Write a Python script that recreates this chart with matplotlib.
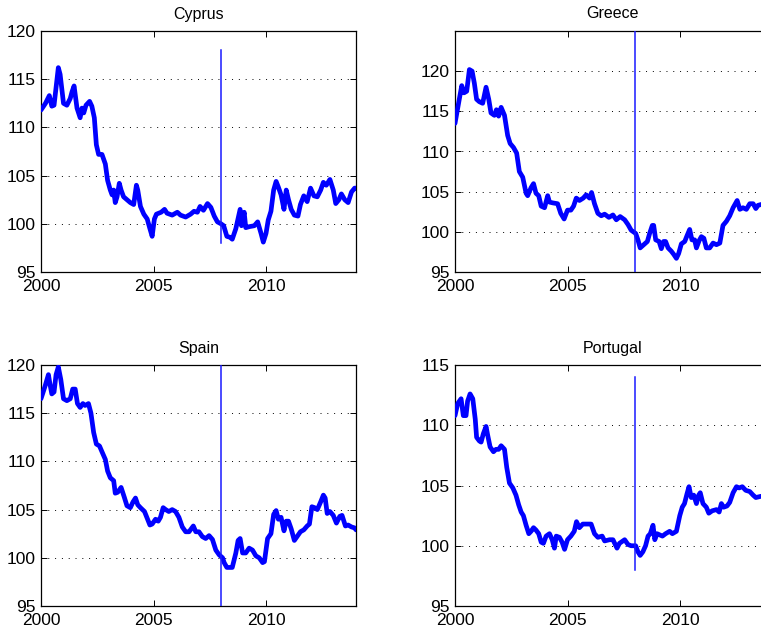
import matplotlib
matplotlib.use("Agg")
import matplotlib.pyplot as plt

plt.rcParams['font.family'] = ['Liberation Sans', 'DejaVu Sans']

# Real effective exchange rate indices (2008 = 100), sampled at irregular dates
cyprus_t = [2000.0, 2000.2, 2000.37, 2000.48, 2000.58, 2000.77, 2000.85, 2001.0, 2001.15, 2001.3, 2001.38,
            2001.47, 2001.6, 2001.74, 2001.82, 2001.9, 2002.0, 2002.16, 2002.26, 2002.37, 2002.46, 2002.56,
            2002.71, 2002.86, 2002.96, 2003.08, 2003.16, 2003.23, 2003.3, 2003.38, 2003.48, 2003.56, 2003.67,
            2003.82, 2003.97, 2004.12, 2004.24, 2004.3, 2004.42, 2004.57, 2004.72, 2004.84, 2004.94, 2005.04,
            2005.13, 2005.34, 2005.49, 2005.6, 2005.83, 2006.06, 2006.2, 2006.43, 2006.65, 2006.8, 2006.95,
            2007.07, 2007.22, 2007.4, 2007.55, 2007.7, 2007.84, 2008.0, 2008.12, 2008.26, 2008.4, 2008.5,
            2008.66, 2008.85, 2008.91, 2009.03, 2009.1, 2009.25, 2009.48, 2009.63, 2009.78, 2009.88, 2010.0,
            2010.1, 2010.22, 2010.34, 2010.45, 2010.55, 2010.67, 2010.8, 2010.9, 2011.0, 2011.12, 2011.26,
            2011.42, 2011.53, 2011.68, 2011.83, 2011.98, 2012.13, 2012.28, 2012.43, 2012.55, 2012.68, 2012.84,
            2012.99, 2013.1, 2013.24, 2013.35, 2013.5, 2013.65, 2013.8, 2013.94, 2014.0]
cyprus_v = [111.8, 112.5, 113.3, 112.2, 112.3, 116.2, 115.5, 112.5, 112.3, 113.0, 113.7,
            114.3, 112.0, 111.0, 112.0, 111.5, 112.3, 112.7, 112.2, 111.0, 108.2, 107.2,
            107.2, 106.2, 104.5, 103.5, 103.0, 103.5, 102.2, 102.8, 104.2, 103.5, 102.8,
            102.5, 102.2, 102.0, 104.0, 103.5, 101.8, 101.0, 100.5, 99.5, 98.7, 100.5,
            101.0, 101.2, 101.5, 101.1, 100.9, 101.2, 100.9, 100.7, 101.0, 101.3, 101.2,
            101.8, 101.4, 102.1, 101.7, 100.8, 100.2, 100.0, 99.8, 98.7, 98.6, 98.4,
            99.5, 101.5, 99.8, 101.2, 99.6, 99.7, 99.8, 100.2, 99.0, 98.1, 99.0,
            100.4, 101.3, 103.5, 104.4, 103.8, 103.0, 101.5, 103.5, 102.5, 101.5, 100.9,
            100.8, 102.0, 102.9, 102.3, 103.7, 102.9, 102.8, 103.5, 104.3, 104.0, 104.6,
            103.5, 102.1, 102.5, 103.1, 102.5, 102.2, 103.3, 103.7, 103.7]

greece_t = [2000.0, 2000.19, 2000.3, 2000.4, 2000.52, 2000.64, 2000.76, 2000.86, 2000.96, 2001.08, 2001.23,
            2001.38, 2001.5, 2001.6, 2001.75, 2001.84, 2001.94, 2002.05, 2002.2, 2002.34, 2002.45, 2002.6,
            2002.74, 2002.86, 2003.01, 2003.16, 2003.23, 2003.38, 2003.49, 2003.6, 2003.72, 2003.83, 2003.98,
            2004.12, 2004.2, 2004.35, 2004.56, 2004.7, 2004.85, 2005.0, 2005.15, 2005.27, 2005.39, 2005.53,
            2005.7, 2005.83, 2005.98, 2006.07, 2006.2, 2006.35, 2006.5, 2006.65, 2006.84, 2007.02, 2007.17,
            2007.34, 2007.54, 2007.69, 2007.83, 2008.03, 2008.13, 2008.23, 2008.43, 2008.55, 2008.65, 2008.77,
            2008.83, 2008.92, 2009.07, 2009.17, 2009.27, 2009.36, 2009.47, 2009.61, 2009.72, 2009.84, 2009.94,
            2010.06, 2010.21, 2010.31, 2010.43, 2010.53, 2010.65, 2010.73, 2010.85, 2010.95, 2011.06, 2011.17,
            2011.32, 2011.47, 2011.62, 2011.77, 2011.91, 2012.06, 2012.21, 2012.36, 2012.54, 2012.66, 2012.8,
            2012.95, 2013.1, 2013.25, 2013.37, 2013.47, 2013.6, 2013.8, 2014.0]
greece_v = [113.5, 116.5, 118.2, 117.3, 117.5, 120.2, 120.0, 118.5, 116.5, 116.2, 116.0,
            118.0, 116.5, 114.8, 114.5, 115.2, 114.4, 115.5, 114.5, 112.0, 111.0, 110.5,
            109.8, 107.5, 106.8, 104.8, 104.5, 105.5, 106.0, 104.8, 104.5, 103.2, 103.0,
            104.5, 103.7, 103.6, 103.5, 102.3, 101.6, 102.7, 102.7, 103.2, 104.2, 103.9,
            104.2, 104.6, 104.2, 104.9, 103.5, 102.3, 102.0, 102.2, 101.8, 102.1, 101.5,
            101.9, 101.5, 100.9, 100.2, 99.8, 99.0, 98.0, 98.5, 98.8, 99.8, 100.8,
            100.8, 99.0, 98.8, 97.9, 98.8, 98.8, 98.0, 97.6, 97.2, 96.7, 97.3,
            98.5, 98.8, 99.5, 100.3, 99.0, 99.0, 98.0, 98.9, 99.4, 99.2, 98.0,
            98.0, 98.6, 98.4, 98.6, 100.8, 101.3, 102.0, 103.0, 103.9, 102.8, 103.0,
            102.8, 103.5, 103.5, 102.9, 103.3, 103.4, 103.5, 103.4]

spain_t = [2000.0, 2000.18, 2000.33, 2000.4, 2000.48, 2000.58, 2000.67, 2000.77, 2000.88, 2001.0, 2001.15,
           2001.3, 2001.41, 2001.52, 2001.62, 2001.74, 2001.86, 2001.96, 2002.11, 2002.22, 2002.34, 2002.46,
           2002.6, 2002.71, 2002.86, 2002.96, 2003.08, 2003.23, 2003.3, 2003.41, 2003.56, 2003.7, 2003.82,
           2003.97, 2004.09, 2004.2, 2004.3, 2004.42, 2004.6, 2004.72, 2004.84, 2004.94, 2005.09, 2005.21,
           2005.31, 2005.43, 2005.54, 2005.68, 2005.83, 2005.98, 2006.13, 2006.28, 2006.43, 2006.58, 2006.77,
           2006.88, 2007.02, 2007.17, 2007.32, 2007.47, 2007.62, 2007.77, 2007.92, 2008.07, 2008.14, 2008.26,
           2008.4, 2008.5, 2008.66, 2008.76, 2008.85, 2008.96, 2009.1, 2009.25, 2009.4, 2009.55, 2009.7,
           2009.85, 2009.93, 2010.07, 2010.22, 2010.34, 2010.45, 2010.55, 2010.67, 2010.8, 2010.9, 2011.0,
           2011.12, 2011.26, 2011.38, 2011.53, 2011.68, 2011.83, 2011.93, 2012.04, 2012.16, 2012.28, 2012.43,
           2012.55, 2012.63, 2012.72, 2012.84, 2012.99, 2013.13, 2013.28, 2013.38, 2013.53, 2013.65, 2013.8,
           2013.94, 2014.0]
spain_v = [116.5, 117.8, 119.0, 118.0, 117.0, 117.2, 119.0, 119.8, 118.5, 116.5, 116.3,
           116.5, 117.5, 117.5, 116.0, 115.6, 116.0, 115.8, 116.0, 115.0, 113.0, 111.8,
           111.6, 111.0, 110.2, 109.0, 108.3, 108.0, 106.7, 106.8, 107.3, 106.3, 105.4,
           105.2, 105.8, 106.2, 105.5, 105.2, 104.8, 104.1, 103.4, 103.5, 104.0, 103.8,
           104.2, 105.2, 105.0, 104.8, 105.0, 104.8, 104.2, 103.2, 102.7, 102.7, 103.3,
           102.7, 102.7, 102.2, 102.0, 102.3, 101.9, 100.8, 100.3, 100.0, 99.5, 99.0,
           99.0, 99.0, 100.5, 101.8, 102.0, 100.5, 100.5, 101.0, 100.8, 100.2, 100.0,
           99.5, 99.6, 102.0, 102.5, 104.5, 104.9, 104.0, 104.2, 102.8, 103.8, 103.8,
           103.0, 101.8, 102.2, 102.7, 102.9, 103.3, 103.5, 105.3, 105.2, 105.0, 105.8,
           106.5, 106.2, 104.6, 104.8, 104.4, 103.6, 104.3, 104.4, 103.3, 103.4, 103.2,
           103.1, 102.9]

portugal_t = [2000.0, 2000.12, 2000.27, 2000.37, 2000.49, 2000.56, 2000.67, 2000.79, 2000.9, 2000.96, 2001.08,
              2001.16, 2001.26, 2001.38, 2001.45, 2001.56, 2001.71, 2001.82, 2001.94, 2002.05, 2002.2, 2002.3,
              2002.42, 2002.57, 2002.71, 2002.83, 2002.94, 2003.04, 2003.16, 2003.28, 2003.38, 2003.49, 2003.6,
              2003.72, 2003.83, 2003.93, 2004.05, 2004.2, 2004.32, 2004.42, 2004.5, 2004.64, 2004.76, 2004.87,
              2005.0, 2005.15, 2005.3, 2005.4, 2005.53, 2005.68, 2005.85, 2006.05, 2006.2, 2006.35, 2006.54,
              2006.65, 2006.87, 2007.02, 2007.2, 2007.31, 2007.54, 2007.69, 2007.83, 2008.03, 2008.13, 2008.23,
              2008.35, 2008.47, 2008.58, 2008.68, 2008.8, 2008.88, 2008.98, 2009.1, 2009.22, 2009.36, 2009.54,
              2009.66, 2009.84, 2009.99, 2010.1, 2010.2, 2010.31, 2010.4, 2010.5, 2010.61, 2010.73, 2010.83,
              2010.9, 2011.02, 2011.17, 2011.28, 2011.43, 2011.62, 2011.74, 2011.84, 2011.94, 2012.09, 2012.21,
              2012.36, 2012.51, 2012.63, 2012.77, 2012.92, 2013.1, 2013.25, 2013.37, 2013.59, 2013.8, 2014.0]
portugal_v = [110.8, 111.8, 112.2, 110.8, 110.8, 112.0, 112.6, 112.2, 110.5, 109.0, 108.7,
              108.6, 109.3, 109.9, 109.2, 108.2, 107.8, 108.0, 108.0, 108.3, 108.0, 106.5,
              105.2, 104.8, 104.2, 103.4, 102.8, 102.5, 101.7, 101.0, 101.2, 101.5, 101.3,
              101.0, 100.3, 100.2, 100.8, 101.0, 100.5, 99.8, 100.8, 100.7, 100.3, 99.7,
              100.5, 100.8, 101.2, 102.0, 101.5, 101.8, 101.8, 101.8, 101.0, 100.7, 100.8,
              100.4, 100.5, 100.5, 99.8, 100.2, 100.5, 100.1, 100.0, 100.0, 99.5, 99.2,
              99.5, 100.0, 100.8, 101.0, 101.7, 100.5, 101.0, 100.9, 100.8, 101.0, 101.2,
              101.0, 101.2, 102.5, 103.2, 103.5, 104.3, 104.9, 104.0, 104.2, 103.5, 104.2,
              104.4, 103.5, 103.2, 102.7, 102.9, 103.0, 102.8, 103.5, 103.2, 103.3, 103.6,
              104.4, 104.9, 104.8, 104.9, 104.6, 104.5, 104.2, 104.0, 104.1, 104.1, 104.1]

titles = ["Cyprus", "Greece", "Spain", "Portugal"]
series = [(cyprus_t, cyprus_v), (greece_t, greece_v), (spain_t, spain_v), (portugal_t, portugal_v)]
ylims = [(95, 120), (95, 125), (95, 120), (95, 115)]
yticks = [[95, 100, 105, 110, 115, 120], [95, 100, 105, 110, 115, 120],
          [95, 100, 105, 110, 115, 120], [95, 100, 105, 110, 115]]
xticks = [2000, 2005, 2010]
break_year = 2008
break_spans = [(98, 118), (95, 125), (95, 120), (98, 114)]

W, H = 761, 632
fig = plt.figure(figsize=(W / 100, H / 100), dpi=100)

# axes boxes in pixels: left, top, width, height
boxes = [(41, 31, 315, 241), (455, 31, 315, 241), (41, 365, 315, 241), (455, 365, 315, 241)]

for (l, t, w, h), title, (xs, ys), ylim, yt, span in zip(boxes, titles, series, ylims, yticks, break_spans):
    ax = fig.add_axes([l / W, (H - t - h) / H, w / W, h / H])
    ax.plot(xs, ys, color=(0, 0, 1), lw=3.4, solid_joinstyle='round', solid_capstyle='round', zorder=3)
    ax.plot([break_year, break_year], span, color=(0.1, 0.1, 1), lw=1.1, zorder=4)
    ax.set_xlim(2000, 2014)
    ax.set_ylim(*ylim)
    ax.set_xticks(xticks)
    ax.set_yticks(yt)
    ax.grid(axis='y', color='black', linestyle=(0, (1, 6)), linewidth=0.7)
    ax.tick_params(direction='in', top=True, right=True, length=4, width=0.7,
                   labelsize=12.5, pad=4, colors='black')
    ax.tick_params(axis='x', pad=5)
    for s in ax.spines.values():
        s.set_linewidth(0.9)
    ax.set_title(title, fontsize=11.5, pad=9)

fig.savefig("out.png", dpi=100)
